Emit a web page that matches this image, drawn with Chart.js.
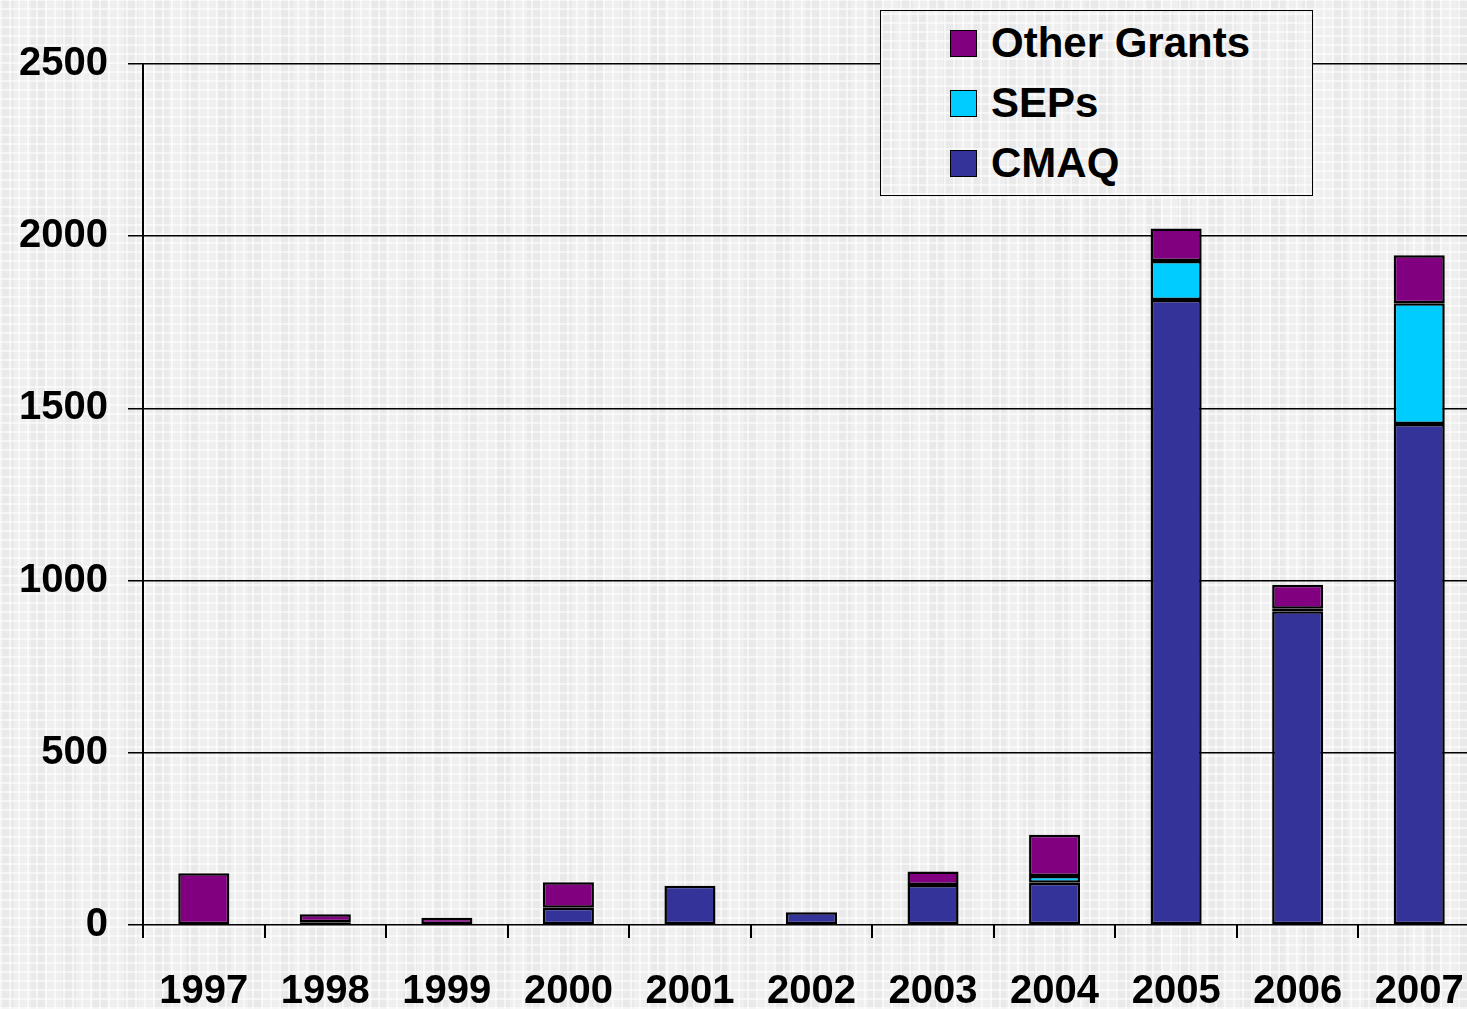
<!DOCTYPE html>
<html lang="en">
<head>
  <meta charset="UTF-8" />
  <title>Grants by year</title>
  <script src="https://cdn.jsdelivr.net/npm/chart.js"></script>
  <style>
    html, body {
      margin: 0;
      padding: 0;
      width: 1467px;
      height: 1009px;
      overflow: hidden;
    }
    .plaid {
      background-color: #efefef;
      background-image:
        repeating-linear-gradient(90deg, rgba(255,255,255,0.55) 0 2px, transparent 2px 9px),
        repeating-linear-gradient(0deg, rgba(255,255,255,0.55) 0 2px, transparent 2px 9px),
        repeating-linear-gradient(90deg, rgba(0,0,0,0.025) 0 14px, transparent 14px 31px);
    }
    #wrap { position: absolute; left: 0; top: 0; width: 1480px; height: 1009px; }
    #legend {
      position: absolute;
      left: 880px; top: 10px;
      width: 431px; height: 184px;
      border: 1px solid #000;
      font-family: "Liberation Sans", Arial, sans-serif;
      font-weight: bold;
      font-size: 42px;
      color: #000;
    }
    .item { position: absolute; left: 69px; height: 42px; line-height: 42px; }
    .item span.box {
      position: absolute; left: 0; top: 8px;
      width: 27px; height: 27px;
      border: 1px solid #000; box-sizing: border-box;
    }
    .item span.txt { position: absolute; left: 41px; top: 0; white-space: nowrap; }
  </style>
</head>
<body class="plaid">
  <div id="wrap">
    <canvas id="chart" width="1480" height="1009"></canvas>
  </div>
  <div id="legend" class="plaid"></div>

  <script>
    // data
    const years = ["1997", "1998", "1999", "2000", "2001", "2002", "2003", "2004", "2005", "2006", "2007"];
    const cmaq =   [0,   8,  0, 50, 114, 37, 116, 123, 1815, 911, 1455];
    const seps =   [0,   0,  0,  0,   0,  0,   0,  19,  113,   7,  350];
    const others = [150, 23, 21, 74,  0,  0,  39, 120,   94,  70,  140];
    const yTicks = [0, 500, 1000, 1500, 2000, 2500];

    const colors = { cmaq: "#333399", seps: "#00CCFF", others: "#800080" };
    const FONT = { family: "'Liberation Sans', Arial, sans-serif", size: 40, weight: "bold" };

    function mkSet(label, data, color) {
      return {
        label: label,
        // empty segments are left out so they don't leave a stray border line
        data: data.map(v => v === 0 ? null : v),
        backgroundColor: color,
        borderColor: "#000",
        borderWidth: 2.5,
        borderSkipped: false,
        categoryPercentage: 1,
        barPercentage: 0.42
      };
    }

    const ctx = document.getElementById("chart").getContext("2d");
    new Chart(ctx, {
      type: "bar",
      data: {
        labels: years,
        datasets: [
          mkSet("CMAQ", cmaq, colors.cmaq),
          mkSet("SEPs", seps, colors.seps),
          mkSet("Other Grants", others, colors.others)
        ]
      },
      options: {
        responsive: false,
        animation: false,
        layout: { padding: { top: 64, right: 0, left: 0, bottom: 0 } },
        plugins: { legend: { display: false }, tooltip: { enabled: false } },
        scales: {
          x: {
            stacked: true,
            afterFit: s => { s.height = 84; s.paddingLeft = 0; s.paddingRight = 0; },
            grid: { offset: true, drawOnChartArea: false, drawTicks: true, tickLength: 13, color: "#000", lineWidth: 2 },
            border: { display: false },
            ticks: { color: "#000", font: FONT, padding: 30, maxRotation: 0, autoSkip: false }
          },
          y: {
            stacked: true,
            min: 0,
            max: 2500,
            afterFit: s => { s.width = 143; s.paddingTop = 0; s.paddingBottom = 0; },
            afterBuildTicks: s => { s.ticks = yTicks.map(v => ({ value: v })); },
            grid: { color: "#000", lineWidth: 1.5, tickLength: 15 },
            border: { color: "#000", width: 2 },
            ticks: { color: "#000", font: FONT, padding: 20, callback: v => String(v) }
          }
        }
      }
    });

    // legend, listed top to bottom like the original
    const legendItems = [
      ["Other Grants", colors.others],
      ["SEPs", colors.seps],
      ["CMAQ", colors.cmaq]
    ];
    const lg = document.getElementById("legend");
    legendItems.forEach(([name, col], i) => {
      const d = document.createElement("div");
      d.className = "item";
      d.style.top = (11 + i * 60) + "px";
      d.innerHTML = '<span class="box" style="background:' + col + '"></span><span class="txt">' + name + '</span>';
      lg.appendChild(d);
    });
  </script>
</body>
</html>
